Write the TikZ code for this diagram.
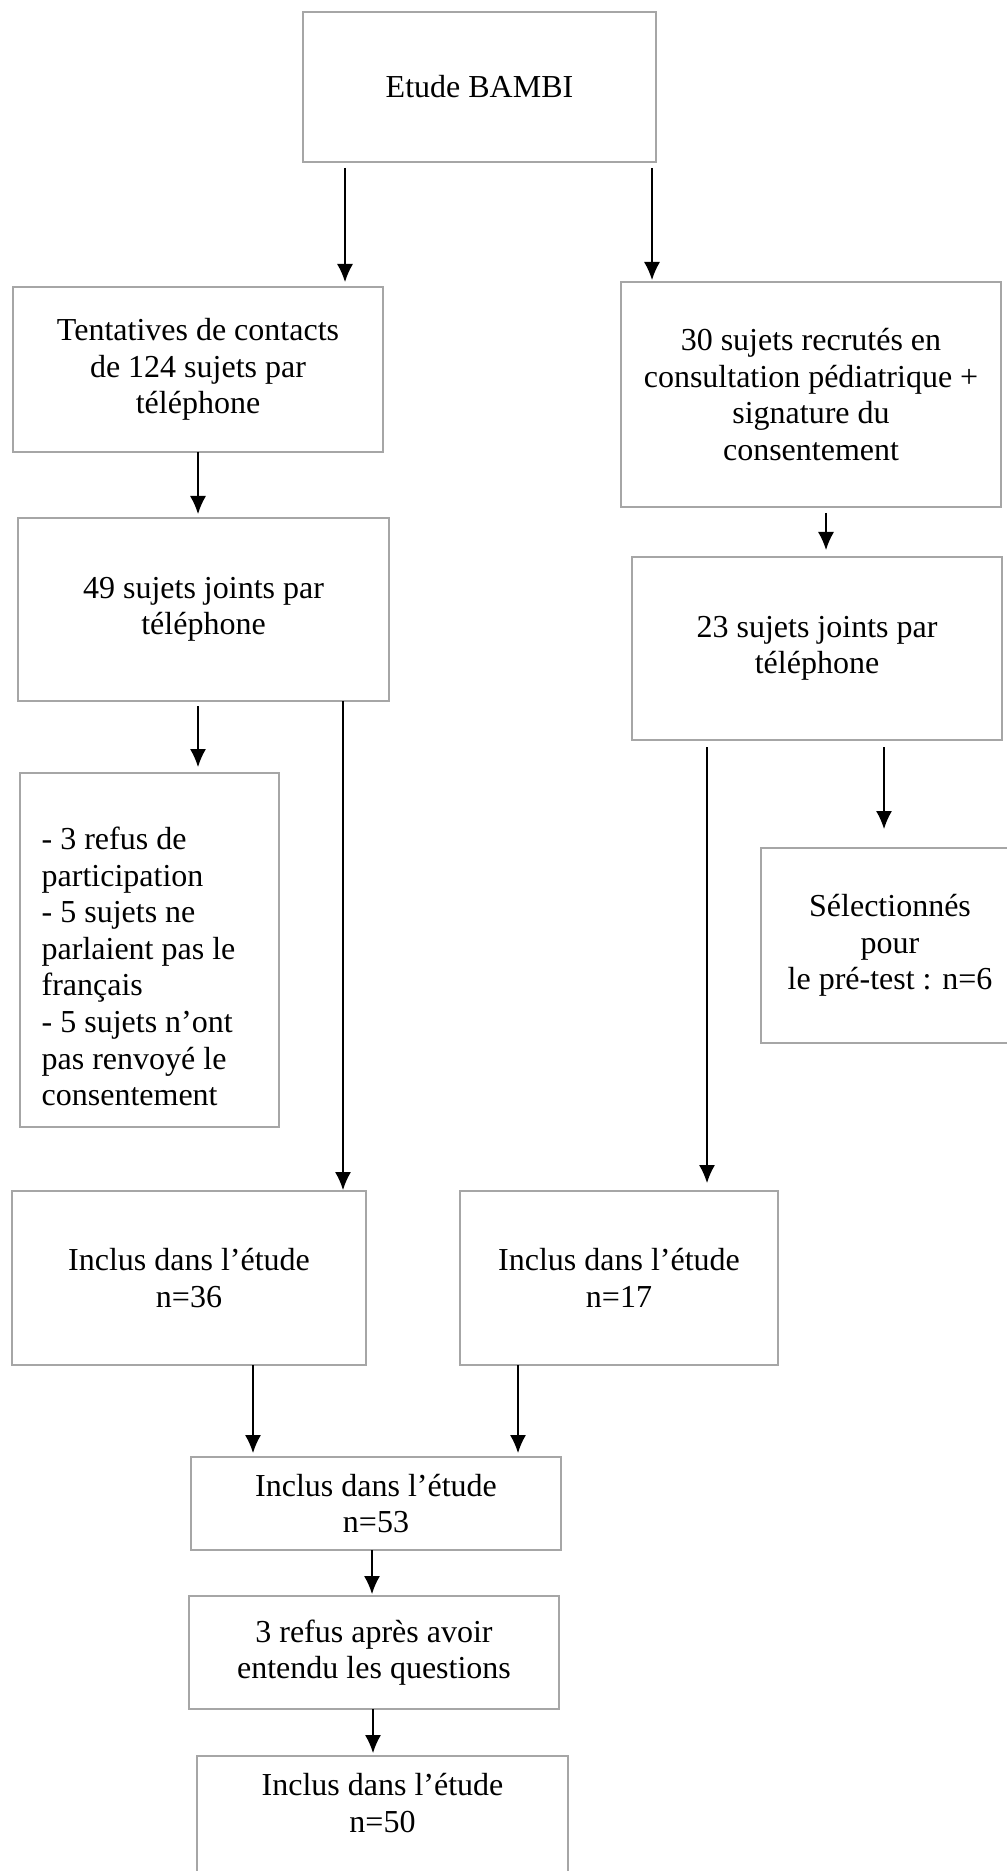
\documentclass[tikz,border=0pt]{standalone}
\usepackage{fontspec}
\setmainfont{Liberation Serif}
\usetikzlibrary{arrows.meta}
\tikzset{texte/.style={font=\fontsize{16}{18.3}\selectfont},
boite/.style={rectangle,draw=gray!70,line width=1pt,fill=white,outer sep=0pt,align=center,texte}}

\begin{document}
\begin{tikzpicture}[x=0.5pt,y=-0.5pt,-{Latex[length=9pt,width=8pt]},line width=0.65pt,shorten >=2pt]
\useasboundingbox (0,0) rectangle (1006,1871);
\draw (479.5,87) node[boite,minimum width=176.5pt,minimum height=75pt](etude) {Etude BAMBI};
\draw (198,369.5) node[boite,minimum width=185pt,minimum height=82.5pt](tentatives) {Tentatives de contacts\\de 124 sujets par\\téléphone};
\draw (811,394.5) node[boite,minimum width=190pt,minimum height=112.5pt](recrutes) {30 sujets recrutés en\\consultation pédiatrique +\\signature du\\consentement};
\draw (203.5,609.5) node[boite,minimum width=185.5pt,minimum height=91.5pt](joints49) {49 sujets joints par\\téléphone};
\draw (817,648.5) node[boite,minimum width=185pt,minimum height=91.5pt](joints23) {23 sujets joints par\\téléphone};
\draw (149.5,950) node[boite,minimum width=129.5pt,minimum height=177pt,
  label={[texte,anchor=west,inner sep=0pt,xshift=10.5pt,yshift=-8.25pt,align=left]west:- 3 refus de\\participation\\- 5 sujets ne\\parlaient pas le\\français\\- 5 sujets n’ont\\pas renvoyé le\\consentement}](refus) {};
\draw (890,945.5) node[boite,minimum width=129pt,minimum height=97.5pt](selection) {Sélectionnés\\pour\\le pré-test : n=6};
\draw (189,1278) node[boite,minimum width=177pt,minimum height=87pt](inclus36) {Inclus dans l’étude\\n=36};
\draw (619,1278) node[boite,minimum width=159pt,minimum height=87pt](inclus17) {Inclus dans l’étude\\n=17};
\draw (376,1503.5) node[boite,minimum width=185pt,minimum height=46.5pt](inclus53) {Inclus dans l’étude\\n=53};
\draw (374,1652.5) node[boite,minimum width=185pt,minimum height=56.5pt](refus3) {3 refus après avoir\\entendu les questions};
\draw (382.5,1823) node[boite,minimum width=185.5pt,minimum height=67pt,
  label={[texte,inner sep=0pt,yshift=10pt,align=center]center:Inclus dans l’étude\\n=50}](inclus50) {};
\draw[shorten <=3pt,shorten >=2.5pt] (etude.south -| 345,0) -- (tentatives.north -| 345,0);
\draw[shorten <=3pt,shorten >=1pt] (etude.south -| 652,0) -- (recrutes.north -| 652,0);
\draw (tentatives.south -| 198,0) -- (joints49.north -| 198,0);
\draw[shorten <=3pt,shorten >=3.5pt] (recrutes.south -| 826,0) -- (joints23.north -| 826,0);
\draw[shorten <=2.5pt,shorten >=3pt] (joints49.south -| 198,0) -- (refus.north -| 198,0);
\draw[shorten >=0.5pt] (joints49.south -| 343,0) -- (inclus36.north -| 343,0);
\draw[shorten <=3.5pt,shorten >=4pt] (joints23.south -| 707,0) -- (inclus17.north -| 707,0);
\draw[shorten <=3.5pt,shorten >=9.5pt] (joints23.south -| 884,0) -- (selection.north -| 884,0);
\draw (inclus36.south -| 253,0) -- (inclus53.north -| 253,0);
\draw (inclus17.south -| 518,0) -- (inclus53.north -| 518,0);
\draw[shorten >=1pt] (inclus53.south -| 372,0) -- (refus3.north -| 372,0);
\draw[shorten >=1.5pt] (refus3.south -| 373,0) -- (inclus50.north -| 373,0);
\end{tikzpicture}
\end{document}
